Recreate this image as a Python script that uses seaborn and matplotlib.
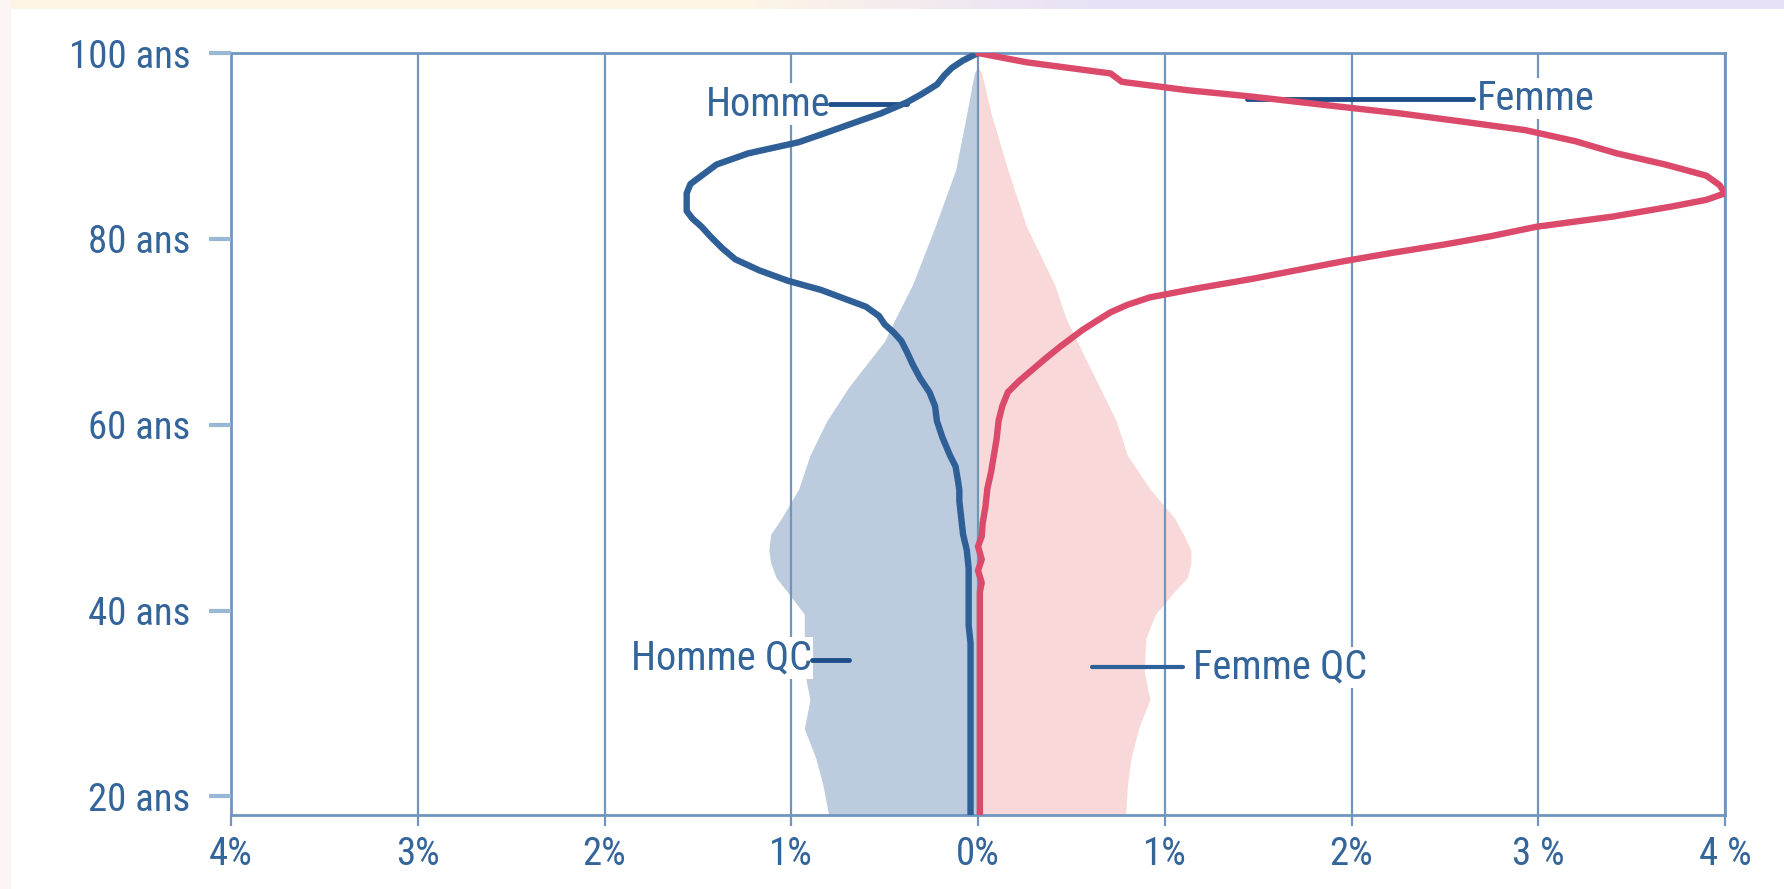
import numpy as np
import pandas as pd
import matplotlib
matplotlib.use("Agg")
import matplotlib.pyplot as plt
from matplotlib import font_manager
import seaborn as sns

# ---------------- data ----------------
ages_homme = [100, 99.2, 98.4, 97.6, 96.6, 95.6, 94.7, 93.5, 92.3, 91.3,
              90.4, 89.2, 88.0, 86.8, 85.9, 84.9, 83.0, 82.2, 81.3, 80.2,
              79.0, 77.8, 76.6, 75.5, 74.5, 73.6, 72.7, 71.7, 70.8, 69.9,
              69.0, 67.8, 66.5, 65.0, 63.5, 62.0, 60.4, 58.6, 56.7, 55.5,
              54.3, 53.0, 51.8, 50.0, 48.2, 46.5, 44.5, 41.5, 38.4, 36.5,
              30, 25, 18]
homme = [0.0, 0.08, 0.14, 0.18, 0.22, 0.30, 0.38, 0.52, 0.69, 0.83,
         0.96, 1.23, 1.40, 1.48, 1.54, 1.56, 1.56, 1.53, 1.48, 1.43,
         1.37, 1.30, 1.17, 1.02, 0.84, 0.72, 0.60, 0.53, 0.50, 0.45,
         0.41, 0.38, 0.35, 0.31, 0.26, 0.23, 0.22, 0.19, 0.15, 0.12,
         0.11, 0.10, 0.10, 0.09, 0.08, 0.06, 0.05, 0.05, 0.05, 0.04,
         0.04, 0.04, 0.04]

ages_femme = [100, 99.0, 97.8, 96.9, 96.0, 95.3, 94.4, 93.5, 92.6, 91.7,
              90.5, 89.2, 88.0, 86.8, 85.8, 84.9, 84.2, 83.5, 82.4, 81.3,
              80.3, 79.4, 78.5, 77.6, 76.6, 75.7, 74.7, 73.7, 72.9, 72.1,
              71.1, 70.2, 69.3, 68.4, 67.1, 65.9, 64.7, 63.5, 62.0, 60.4,
              58.5, 56.7, 54.9, 53.1, 51.2, 49.4, 48.0, 46.9, 45.5, 44.3,
              43.0, 42.0, 30, 18]
femme = [0.0, 0.26, 0.71, 0.77, 1.12, 1.47, 1.86, 2.26, 2.60, 2.93,
         3.20, 3.42, 3.68, 3.90, 3.97, 4.0, 3.90, 3.72, 3.40, 2.99,
         2.75, 2.50, 2.22, 1.96, 1.70, 1.47, 1.18, 0.92, 0.80, 0.71,
         0.63, 0.56, 0.50, 0.44, 0.36, 0.29, 0.22, 0.16, 0.13, 0.11,
         0.10, 0.085, 0.07, 0.05, 0.04, 0.025, 0.02, 0.0, 0.02, 0.0,
         0.02, 0.01, 0.01, 0.01]

ages_qc = [98.5, 97.8, 93.5, 87.4, 81.3, 75.1, 71.5, 69.0, 64.1, 60.4,
           56.7, 53.1, 50.0, 48.2, 46.5, 45.1, 43.5, 42.0, 39.6, 37.1,
           33.5, 30.4, 27.3, 24.2, 21.2, 18.0]
homme_qc = [0.0, 0.02, 0.06, 0.12, 0.23, 0.35, 0.44, 0.50, 0.69, 0.81,
            0.90, 0.96, 1.05, 1.11, 1.12, 1.11, 1.08, 1.02, 0.93, 0.93,
            0.93, 0.90, 0.93, 0.87, 0.83, 0.80]
femme_qc = [0.0, 0.02, 0.07, 0.16, 0.26, 0.41, 0.47, 0.53, 0.65, 0.74,
            0.80, 0.92, 1.05, 1.10, 1.14, 1.14, 1.12, 1.05, 0.95, 0.90,
            0.89, 0.92, 0.86, 0.82, 0.80, 0.79]

x_ticks = [-4, -3, -2, -1, 0, 1, 2, 3, 4]
x_labels = ["4%", "3%", "2%", "1%", "0%", "1%", "2%", "3 %", "4 %"]
y_ticks = [20, 40, 60, 80, 100]
y_labels = ["20 ans", "40 ans", "60 ans", "80 ans", "100 ans"]

# ---------------- style ----------------
sns.set_theme(style="white")
names = {f.name for f in font_manager.fontManager.ttflist}
cands = ["Liberation Sans Narrow", "Roboto Condensed", "Open Sans Condensed",
         "DejaVu Sans Condensed", "Roboto"]
fam = [c for c in cands if c in names][:1] + ["DejaVu Sans"]
plt.rcParams['font.family'] = fam
plt.rcParams['font.stretch'] = 'condensed'

TXT = "#33649a"
AXC = "#6f96c0"
HOM = "#2f5f97"
FEM = "#dc4a6b"
ANN = "#1e4f8a"
FS = 28
FSA = 29

fig = plt.figure(figsize=(17.84, 8.89), dpi=100)
fig.patch.set_facecolor("white")

# decorative background strips
bg = fig.add_axes([0, 0, 1, 1], zorder=-10)
grad = np.zeros((2, 200, 3))
c_left = np.array([0.99, 0.96, 0.90])
c_right = np.array([0.91, 0.88, 0.97])
t = np.clip((np.linspace(0, 1, 200) - 0.42) / 0.2, 0, 1)
for i in range(3):
    grad[:, :, i] = c_left[i] * (1 - t) + c_right[i] * t
bg.imshow(grad, extent=[0, 1, 1 - 9 / 889, 1], aspect="auto")
bg.add_patch(plt.Rectangle((0, 0), 10 / 1784, 1, color="#fbf5f4"))
bg.set_xlim(0, 1)
bg.set_ylim(0, 1)
bg.axis("off")

ax = fig.add_axes([231 / 1784, 74 / 889, (1725 - 231) / 1784, (815 - 53) / 889])
ax.set_facecolor("white")

# QC filled areas
ax.fill_betweenx(ages_qc, [-v for v in homme_qc], 0, color="#bccbdd", lw=0, zorder=1)
ax.fill_betweenx(ages_qc, 0, femme_qc, color="#f8d8d8", lw=0, zorder=1)

df_h = pd.DataFrame({"age": ages_homme, "pct": [-v for v in homme]})
df_f = pd.DataFrame({"age": ages_femme, "pct": femme})
sns.lineplot(data=df_h, x="pct", y="age", sort=False, estimator=None,
             color=HOM, lw=4.6, ax=ax, zorder=4)
sns.lineplot(data=df_f, x="pct", y="age", sort=False, estimator=None,
             color=FEM, lw=4.6, ax=ax, zorder=4)

ax.set_xlim(-4, 4)
ax.set_ylim(18, 100)
ax.set_xticks(x_ticks)
ax.set_xticklabels(x_labels)
ax.set_yticks(y_ticks)
ax.set_yticklabels(y_labels)
ax.set_xlabel("")
ax.set_ylabel("")

ax.xaxis.grid(True, color=AXC, lw=1.6)
ax.yaxis.grid(False)
ax.set_axisbelow(False)
for s in ax.spines.values():
    s.set_color(AXC)
    s.set_linewidth(2.0)

ax.tick_params(axis="y", direction="out", length=16, width=3, color="#9bb7d6",
               labelsize=FS, labelcolor=TXT, pad=13, left=True)
ax.tick_params(axis="x", direction="out", length=8, width=1.6, color=AXC,
               labelsize=FS, labelcolor=TXT, pad=7, bottom=True)

# annotations
box = dict(facecolor="white", edgecolor="none", pad=1)
ax.text(-0.79, 94.5, "Homme", color=TXT, fontsize=FSA, ha="right", va="center",
        bbox=box, zorder=3)
ax.plot([-0.79, -0.38], [94.5, 94.5], color=ANN, lw=3.5, zorder=3.5)

ax.text(2.67, 95.1, "Femme", color=TXT, fontsize=FSA, ha="left", va="center",
        bbox=box, zorder=3)
ax.plot([1.44, 2.65], [95.1, 95.1], color=ANN, lw=3.5, zorder=3.5)

ax.text(-0.89, 34.9, "Homme QC", color=TXT, fontsize=FSA, ha="right", va="center",
        bbox=box, zorder=3)
ax.plot([-0.89, -0.69], [34.7, 34.7], color=ANN, lw=3.5, zorder=3.5)

ax.text(1.15, 33.9, "Femme QC", color=TXT, fontsize=FSA, ha="left", va="center",
        bbox=box, zorder=3)
ax.plot([0.61, 1.1], [33.9, 33.9], color="#2c6199", lw=3, zorder=3.5)

fig.savefig("out.png", dpi=100, facecolor=fig.get_facecolor())
